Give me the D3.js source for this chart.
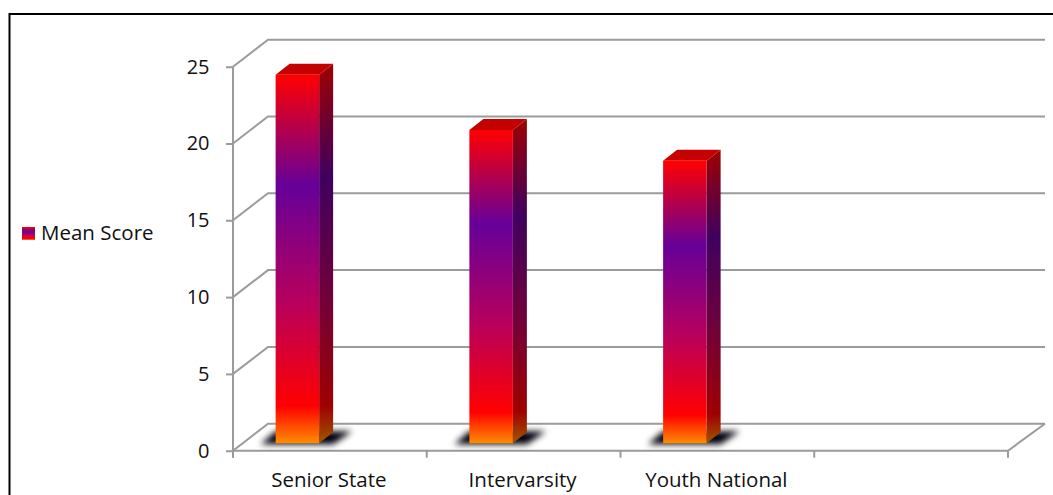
<!DOCTYPE html>
<html>
<head>
<meta charset="utf-8">
<script src="https://cdn.jsdelivr.net/npm/d3@7"></script>
<style>
  html, body { margin: 0; padding: 0; background: #fff; overflow: hidden; }
  svg { display: block; }
  text { font-family: "Open Sans", "Noto Sans", sans-serif; fill: #111; }
</style>
</head>
<body>
<svg id="chart" width="1053" height="495"></svg>
<script>
const categories = ["Senior State", "Intervarsity", "Youth National", ""];
const meanScore = [24, 20.4, 18.4, null];
const yTicks = [0, 5, 10, 15, 20, 25];
const seriesName = "Mean Score";

const svg = d3.select("#chart");
const wall = { dx: 35, dy: -27 };     // depth of the chart box
const barDepth = { dx: 14, dy: -11 }; // depth of each column
const barRise = -7.4;                 // column base sits back from the front edge
const barShift = -32.5;               // column offset from the slot centre
const barWidth = 43.5;
const gridColor = "#9b9b9b";

const y = d3.scaleLinear().domain([0, 25]).range([450.7, 66.7]);
const x = d3.scaleBand().domain(categories).range([233, 1008]);

const defs = svg.append("defs");

// Vertical colour ramp shared by the columns and the legend key
const rampStops = [
  [0, "#ff0000"], [0.30, "#660099"], [0.62, "#b8005c"],
  [0.90, "#ff0000"], [1, "#ff8c00"]
];
function addRamp(id, shade) {
  const g = defs.append("linearGradient").attr("id", id)
    .attr("x1", 0).attr("y1", 0).attr("x2", 0).attr("y2", 1);
  rampStops.forEach(([o, c]) => {
    const col = d3.rgb(c);
    g.append("stop").attr("offset", o)
      .attr("stop-color", d3.rgb(col.r * shade, col.g * shade, col.b * shade).formatHex());
  });
}
addRamp("ramp-front", 1);
addRamp("ramp-side", 0.62);

defs.append("filter").attr("id", "soft")
  .attr("x", "-30%").attr("y", "-60%").attr("width", "160%").attr("height", "220%")
  .append("feGaussianBlur").attr("stdDeviation", 3);

// Page frame
const frame = svg.append("g").attr("stroke", "#000").attr("stroke-width", 2).attr("fill", "none");
frame.append("line").attr("x1", 9).attr("x2", 1053).attr("y1", 14).attr("y2", 14);
frame.append("line").attr("x1", 9.5).attr("x2", 9.5).attr("y1", 13).attr("y2", 495);

// Gridlines: diagonal up the side wall, then along the back wall
const grid = svg.append("g").attr("fill", "none").attr("stroke", gridColor).attr("stroke-width", 2);
grid.selectAll("path").data(yTicks).join("path")
  .attr("d", d => `M${x.range()[0]},${y(d)}l${wall.dx},${wall.dy}H1045`);

// Floor front edge and right edge
grid.append("path")
  .attr("d", `M${x.range()[0]},${y(0)}H${x.range()[1]}l${wall.dx + 2},${wall.dy}`);

// Value axis
const yAxis = d3.axisLeft(y).tickValues(yTicks).tickSize(7).tickPadding(16.5);
const yG = svg.append("g").attr("transform", `translate(${x.range()[0]},0)`).call(yAxis);
yG.select(".domain").remove();
yG.append("line").attr("y1", y(25)).attr("y2", y(0) + 7)
  .attr("stroke", gridColor).attr("stroke-width", 2);
yG.selectAll(".tick line").attr("stroke", gridColor).attr("stroke-width", 2);
yG.selectAll(".tick text").attr("font-size", 20).attr("font-family", '"Open Sans", sans-serif').attr("fill", "#111");

// Category axis
const xG = svg.append("g").attr("transform", `translate(0,${y(0)})`);
const slotEdges = categories.map(c => x(c)).concat(x.range()[1]);
xG.selectAll("line").data(slotEdges).join("line")
  .attr("x1", d => d).attr("x2", d => d).attr("y1", 0).attr("y2", 7)
  .attr("stroke", gridColor).attr("stroke-width", 2);
xG.selectAll("text").data(categories).join("text")
  .attr("x", d => x(d) + x.bandwidth() / 2 - 1)
  .attr("y", 36)
  .attr("text-anchor", "middle")
  .attr("font-size", 20.5)
  .text(d => d);

// Columns
const bars = svg.append("g").selectAll("g")
  .data(categories.map((c, i) => ({ c, v: meanScore[i] })).filter(d => d.v != null))
  .join("g");

const barLeft = d => x(d.c) + x.bandwidth() / 2 - barWidth / 2 + barShift;
const barBase = y(0) + barRise;
const barTop = d => y(d.v) + barRise;

// Soft cast shadow on the floor
bars.append("path")
  .attr("filter", "url(#soft)")
  .attr("fill", "#05060c")
  .attr("d", d => {
    const l = barLeft(d);
    return `M${l - 15},${barBase + 1}L${l},${barBase - 12}H${l + barWidth + 33}L${l + barWidth + 14},${barBase + 1}Z`;
  });

bars.append("path")
  .attr("fill", "url(#ramp-side)")
  .attr("d", d => {
    const r = barLeft(d) + barWidth;
    return `M${r},${barTop(d)}l${barDepth.dx},${barDepth.dy}V${barBase + barDepth.dy}l${-barDepth.dx},${-barDepth.dy}Z`;
  });

bars.append("path")
  .attr("fill", "#c40000")
  .attr("d", d => {
    const l = barLeft(d), t = barTop(d);
    return `M${l},${t}l${barDepth.dx},${barDepth.dy}h${barWidth}l${-barDepth.dx},${-barDepth.dy}Z`;
  });

bars.append("rect")
  .attr("fill", "url(#ramp-front)")
  .attr("x", barLeft)
  .attr("y", barTop)
  .attr("width", barWidth)
  .attr("height", d => barBase - barTop(d));

// Legend
svg.append("rect").attr("x", 22).attr("y", 227).attr("width", 13).attr("height", 13)
  .attr("fill", "url(#ramp-front)");
svg.append("text").attr("x", 41).attr("y", 239.5).attr("font-size", 20.5).text(seriesName);
</script>
</body>
</html>
